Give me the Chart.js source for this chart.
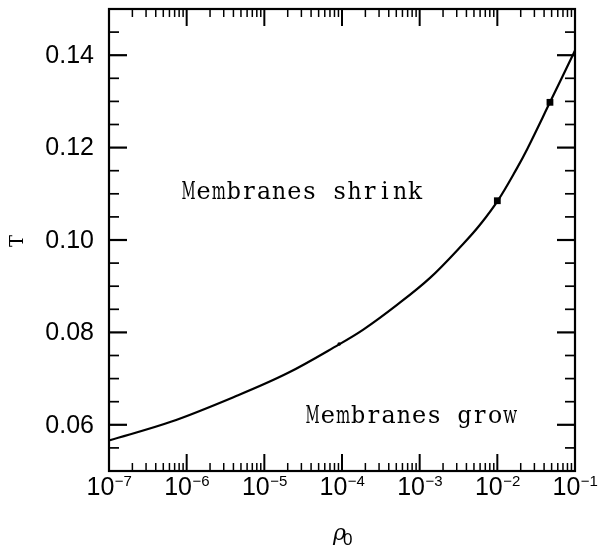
<!DOCTYPE html>
<html><head><meta charset="utf-8">
<script src="https://cdn.jsdelivr.net/npm/chart.js@4.4.0/dist/chart.umd.min.js"></script>
<style>html,body{margin:0;padding:0;background:#fff;}#wrap{width:600px;height:549px;position:relative;}</style>
</head><body><div id="wrap"><canvas id="c" width="600" height="549"></canvas></div>
<script>
// ---- data ----
const curveRho = [1e-7, 6.4e-7, 4.6e-6, 2.0e-5, 8.95e-5, 1.88e-4, 5.06e-4, 1.36e-3, 3.65e-3, 5.98e-3, 1.03e-2, 1.77e-2, 2.43e-2, 4.76e-2, 1e-1];
const curveT   = [0.0566, 0.0607, 0.0664, 0.0712, 0.0773, 0.0806, 0.0859, 0.0918, 0.0992, 0.1033, 0.1087, 0.1154, 0.1197, 0.1298, 0.1410];
const markerRho = [9.2e-5, 1.0e-2, 4.76e-2];
const markerT   = [0.0775, 0.1085, 0.1298];
const xTickExponents = [-7, -6, -5, -4, -3, -2, -1];
const yTickValues = [0.06, 0.08, 0.10, 0.12, 0.14];
const yTickLabels = ['0.06', '0.08', '0.10', '0.12', '0.14'];
const regionLabels = ['Membranes shrink', 'Membranes grow'];
const axisTitles = {x: 'ρ', xSub: '0', y: 'T'};

const frame = {
  id: 'frame',
  afterDraw(chart) {
    const {ctx, chartArea: a, scales: {x, y}} = chart;
    ctx.save();
    ctx.strokeStyle = '#000'; ctx.fillStyle = '#000';
    const seg = (x1, y1, x2, y2) => { ctx.beginPath(); ctx.moveTo(x1, y1); ctx.lineTo(x2, y2); ctx.stroke(); };
    // x ticks (bottom + top)
    for (let e = -7; e <= -2; e++) {
      for (let k = 1; k <= 9; k++) {
        const px = x.getPixelForValue(k * Math.pow(10, e));
        const len = k === 1 ? 17 : 8;
        ctx.lineWidth = k === 1 ? 2 : 1.5;
        seg(px, a.bottom, px, a.bottom - len);
        seg(px, a.top, px, a.top + len);
      }
    }
    // y ticks (left + right)
    for (let i = 0; i <= 20; i++) {
      const v = 0.05 + i * 0.005;
      const major = yTickValues.some(t => Math.abs(t - v) < 1e-9);
      const py = y.getPixelForValue(v);
      const len = major ? 18 : 10;
      ctx.lineWidth = major ? 2.2 : 1.7;
      seg(a.left, py, a.left + len, py);
      seg(a.right, py, a.right - len, py);
    }
    // frame
    ctx.lineWidth = 2.2;
    ctx.strokeRect(a.left, a.top, a.right - a.left, a.bottom - a.top);
    // y tick labels
    ctx.font = '25px "Liberation Sans", Arial, sans-serif';
    ctx.textAlign = 'right'; ctx.textBaseline = 'middle';
    yTickValues.forEach((v, i) => ctx.fillText(yTickLabels[i], a.left - 15, y.getPixelForValue(v) + 1));
    // x tick labels 10^e
    ctx.textBaseline = 'alphabetic';
    xTickExponents.forEach(e => {
      const px = x.getPixelForValue(Math.pow(10, e));
      ctx.font = '25px "Liberation Sans", Arial, sans-serif';
      const wb = ctx.measureText('10').width;
      ctx.font = '15px "Liberation Sans", Arial, sans-serif';
      const sup = '\u2212' + Math.abs(e);
      const ws = ctx.measureText(sup).width;
      const left = px - (wb + ws) / 2;
      ctx.textAlign = 'left';
      ctx.font = '25px "Liberation Sans", Arial, sans-serif';
      ctx.fillText('10', left, a.bottom + 24);
      ctx.font = '15px "Liberation Sans", Arial, sans-serif';
      ctx.fillText(sup, left + wb + 0.5, a.bottom + 15);
    });
    // x title rho_0
    ctx.textAlign = 'left';
    ctx.font = 'italic 22px "DejaVu Serif", serif';
    ctx.fillText(axisTitles.x, 333, 540);
    ctx.font = '17px "Liberation Sans", Arial, sans-serif';
    ctx.fillText(axisTitles.xSub, 343, 545);
    // y title
    ctx.save();
    ctx.translate(18, (a.top + a.bottom) / 2 + 1);
    ctx.rotate(-Math.PI / 2);
    ctx.textAlign = 'center'; ctx.textBaseline = 'middle';
    ctx.font = '18px "DejaVu Serif", serif';
    ctx.fillText(axisTitles.y, 0, 0);
    ctx.restore();
    // region labels, typewriter-like monospaced placement
    const typeText = (s, left, base, cell) => {
      ctx.font = '24px "DejaVu Serif", serif';
      ctx.textAlign = 'center'; ctx.textBaseline = 'alphabetic';
      [...s].forEach((ch, i) => ctx.fillText(ch, left + (i + 0.5) * cell, base, cell - 1));
    };
    typeText(regionLabels[0], 181, 199, 15.1);
    typeText(regionLabels[1], 305, 423, 15.2);
    ctx.restore();
  }
};

new Chart(document.getElementById('c'), {
  type: 'scatter',
  data: {
    datasets: [
      {
        data: curveRho.map((r, i) => ({x: r, y: curveT[i]})),
        showLine: true, borderColor: '#000', borderWidth: 2.2, pointRadius: 0,
        tension: 0.35, fill: false
      },
      {
        data: markerRho.map((r, i) => ({x: r, y: markerT[i]})),
        showLine: false, pointStyle: ['circle', 'rect', 'rect'], pointRadius: [1.8, 4.8, 4.8],
        backgroundColor: '#000', borderColor: '#000', borderWidth: 0
      }
    ]
  },
  options: {
    responsive: false, animation: false, devicePixelRatio: 1,
    layout: {padding: {left: 109, right: 25, top: 9, bottom: 78}},
    plugins: {legend: {display: false}, tooltip: {enabled: false}},
    scales: {
      x: {type: 'logarithmic', min: 1e-7, max: 1e-1, display: false},
      y: {type: 'linear', min: 0.05, max: 0.15, display: false}
    }
  },
  plugins: [frame]
});
</script>
</body></html>
